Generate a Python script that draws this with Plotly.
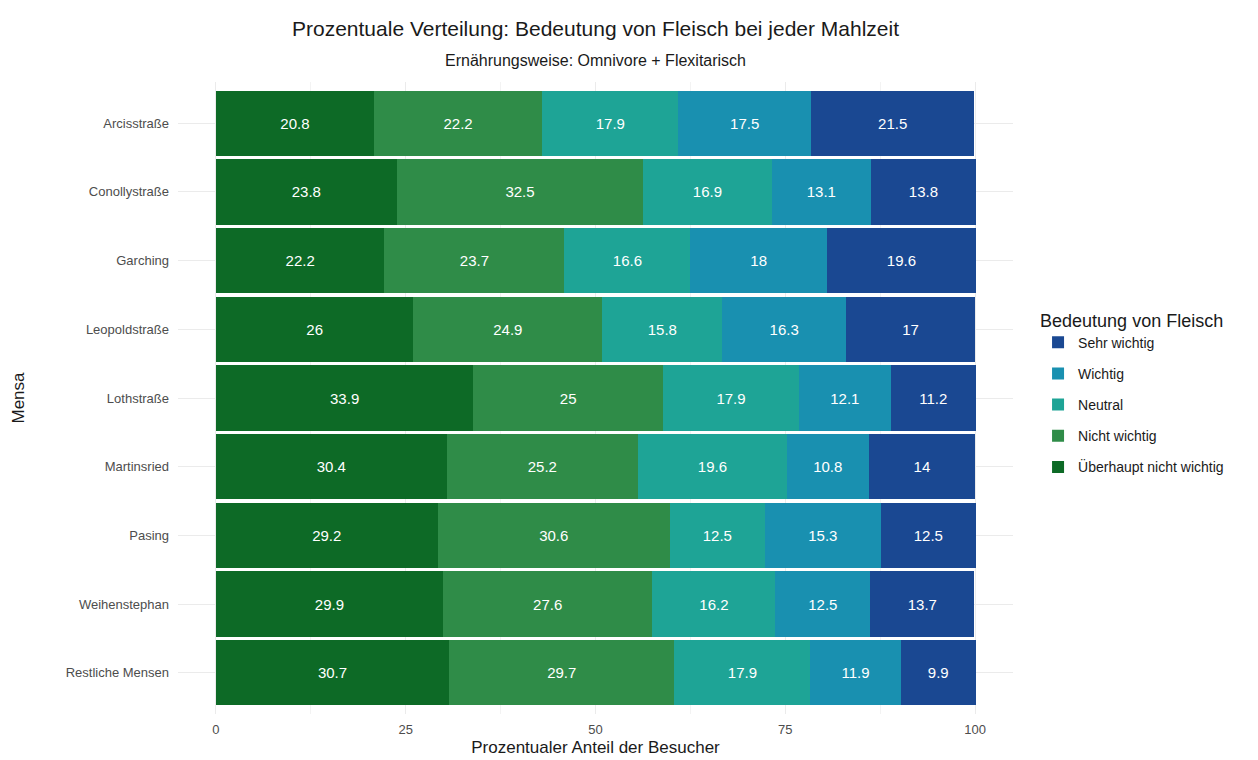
import plotly.graph_objects as go

mensen = ["Arcisstraße", "Conollystraße", "Garching", "Leopoldstraße", "Lothstraße",
          "Martinsried", "Pasing", "Weihenstephan", "Restliche Mensen"]

ueberhaupt_nicht_wichtig = [20.8, 23.8, 22.2, 26, 33.9, 30.4, 29.2, 29.9, 30.7]
nicht_wichtig = [22.2, 32.5, 23.7, 24.9, 25, 25.2, 30.6, 27.6, 29.7]
neutral = [17.9, 16.9, 16.6, 15.8, 17.9, 19.6, 12.5, 16.2, 17.9]
wichtig = [17.5, 13.1, 18, 16.3, 12.1, 10.8, 15.3, 12.5, 11.9]
sehr_wichtig = [21.5, 13.8, 19.6, 17, 11.2, 14, 12.5, 13.7, 9.9]

x_ticks = [0, 25, 50, 75, 100]

series = [
    ("Überhaupt nicht wichtig", ueberhaupt_nicht_wichtig, "#0d6a26"),
    ("Nicht wichtig", nicht_wichtig, "#2f8c48"),
    ("Neutral", neutral, "#1ea496"),
    ("Wichtig", wichtig, "#1990b0"),
    ("Sehr wichtig", sehr_wichtig, "#1a4892"),
]

font_family = "Liberation Sans, Arial, sans-serif"

fig = go.Figure()
for i, (name, vals, color) in enumerate(series):
    fig.add_trace(go.Bar(
        y=mensen, x=vals, name=name, orientation="h",
        legendgroup=name,
        legendrank=1000 - i,
        marker=dict(color=color, line=dict(width=0)),
        text=[f"{v:g}" for v in vals],
        textposition="inside", insidetextanchor="middle",
        textfont=dict(color="white", size=15, family=font_family),
        hoverinfo="x+y+name",
    ))

fig.update_layout(
    barmode="stack",
    bargap=0.05,
    width=1258, height=760,
    plot_bgcolor="white", paper_bgcolor="white",
    margin=dict(l=178, r=245, t=82, b=46, autoexpand=False),
    font=dict(family=font_family, color="#000000"),
    legend=dict(
        title=dict(text="Bedeutung von Fleisch", font=dict(size=18, color="#1a1a1a")),
        traceorder="grouped",
        x=1.03, y=0.65, xanchor="left", yanchor="top",
        font=dict(size=14, color="#1a1a1a"),
        itemwidth=30,
        tracegroupgap=10,
    ),
    annotations=[
        dict(text="Prozentuale Verteilung: Bedeutung von Fleisch bei jeder Mahlzeit",
             xref="paper", yref="paper", x=0.5, y=1, yshift=54, showarrow=False,
             xanchor="center", yanchor="middle",
             font=dict(size=21, color="#1a1a1a", family=font_family)),
        dict(text="Ernährungsweise: Omnivore + Flexitarisch",
             xref="paper", yref="paper", x=0.5, y=1, yshift=22, showarrow=False,
             xanchor="center", yanchor="middle",
             font=dict(size=16, color="#1a1a1a", family=font_family)),
    ],
)

fig.update_xaxes(
    range=[-5, 105],
    tickvals=x_ticks, ticktext=[str(t) for t in x_ticks],
    showgrid=True, gridcolor="#ebebeb", gridwidth=1.2,
    minor=dict(tickvals=[12.5, 37.5, 62.5, 87.5], showgrid=True, gridcolor="#f3f3f3", gridwidth=0.7),
    zeroline=False, showline=False, ticks="",
    ticklabelstandoff=6,
    tickfont=dict(size=13, color="#4d4d4d"),
    title=dict(text="Prozentualer Anteil der Besucher", font=dict(size=17, color="#1a1a1a"), standoff=5),
    automargin=False,
)
fig.update_yaxes(
    categoryorder="array", categoryarray=mensen,
    range=[len(mensen) - 0.4, -0.6],
    showgrid=True, gridcolor="#ebebeb", gridwidth=1.2,
    zeroline=False, showline=False, ticks="",
    ticklabelstandoff=8,
    tickfont=dict(size=13, color="#4d4d4d"),
    title=dict(text="Mensa", font=dict(size=17, color="#1a1a1a"), standoff=36),
    automargin=False,
)

fig.write_html("out.html", config={"displayModeBar": False},
               post_script="document.body.style.margin='0';")
